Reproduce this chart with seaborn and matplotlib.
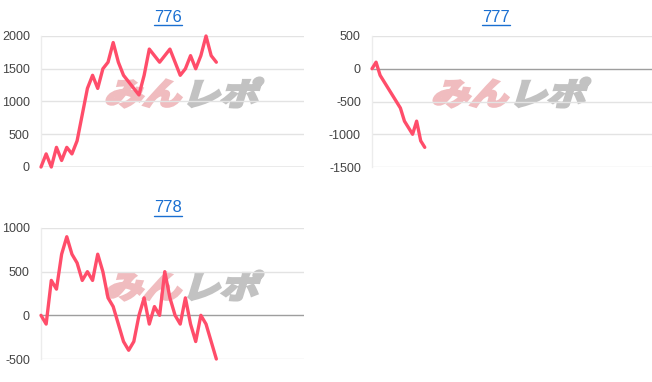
import matplotlib
matplotlib.use("Agg")
import matplotlib.pyplot as plt
from matplotlib.lines import Line2D
from matplotlib.textpath import TextPath
from matplotlib.patches import PathPatch
from matplotlib.font_manager import FontProperties
from matplotlib.transforms import Affine2D, IdentityTransform
import seaborn as sns
import pandas as pd

# ---- data ----
titles = ["776", "777", "778"]
v776 = [0, 200, 0, 300, 100, 300, 200, 400, 800, 1200, 1400, 1200, 1500, 1600,
        1900, 1600, 1400, 1300, 1200, 1100, 1400, 1800, 1700, 1600, 1700, 1800,
        1600, 1400, 1500, 1700, 1500, 1700, 2000, 1700, 1600]
v777 = [0, 100, -100, -200, -300, -400, -500, -600, -800, -900, -1000, -800,
        -1100, -1200]
v778 = [0, -100, 400, 300, 700, 900, 700, 600, 400, 500, 400, 700, 500, 200,
        100, -100, -300, -400, -300, 0, 200, -100, 100, 0, 500, 200, 0, -100,
        200, -100, -300, 0, -100, -300, -500]
yticks_776 = [0, 500, 1000, 1500, 2000]
yticks_777 = [-1500, -1000, -500, 0, 500]
yticks_778 = [-500, 0, 500, 1000]
slots_776 = 52
slots_777 = 70
slots_778 = 52

LINE = "#ff4d6a"
W, H = 652, 382

sns.set_theme(style="white")
plt.rcParams['font.family'] = ['Liberation Sans', 'DejaVu Sans']

fig = plt.figure(figsize=(W / 100, H / 100), dpi=100)
fp = FontProperties(family="Noto Sans CJK JP", weight="bold")


def add_ax(x0, x1, ytop, ybot):
    return fig.add_axes([x0 / W, 1 - ybot / H, (x1 - x0) / W, (ybot - ytop) / H])


def logo_part(txt, x0, x1, ytop, ybot, color):
    p = TextPath((0, 0), txt, size=40, prop=fp)
    p2 = Affine2D().skew_deg(14, 0).transform_path(p)
    e = p2.get_extents()
    sx = (x1 - x0) / e.width
    sy = (ybot - ytop) / e.height
    tr = Affine2D().translate(-e.x0, -e.y0).scale(sx, sy).translate(x0, H - ybot)
    p3 = tr.transform_path(p2)
    fig.add_artist(PathPatch(p3, transform=IdentityTransform(), fc=color,
                             ec=color, lw=2.2, joinstyle="miter", zorder=-1))


def watermark(x0, ytop):
    logo_part("みん", x0 + 2, x0 + 76, ytop + 1, ytop + 28, "#f0bcbf")
    logo_part("レポ", x0 + 84, x0 + 158, ytop - 1, ytop + 28, "#c2c2c2")


def title(cx, cy, txt):
    fig.text(cx / W, 1 - cy / H, txt, ha="center", va="center",
             fontsize=12, color="#1a6fd1")
    fig.add_artist(Line2D([(cx - 14) / W, (cx + 14) / W],
                          [1 - (cy + 7.5) / H, 1 - (cy + 7.5) / H],
                          color="#1a6fd1", lw=1))


def panel(ax, vals, ylim, yticks, slots):
    ax.set_facecolor("none")
    df = pd.DataFrame({"x": range(len(vals)), "y": vals})
    sns.lineplot(data=df, x="x", y="y", ax=ax, color=LINE, lw=2.4,
                 clip_on=False, zorder=5)
    ax.set_xlim(0, slots - 1)
    ax.set_ylim(*ylim)
    ax.set_yticks(yticks)
    ax.set_yticklabels([str(t) for t in yticks])
    ax.set_xticks([])
    ax.set_xlabel("")
    ax.set_ylabel("")
    for t in yticks:
        if t == 0:
            ax.axhline(t, color="#9e9e9e", lw=1, zorder=2)
        else:
            ax.axhline(t, color="#e3e3e3", lw=1, zorder=1)
    for s in ["top", "right", "bottom"]:
        ax.spines[s].set_visible(False)
    ax.spines["left"].set_color("#ececec")
    ax.spines["left"].set_linewidth(1)
    ax.tick_params(axis="y", length=0, pad=8, labelsize=9, labelcolor="#444444")


watermark(105, 79)
watermark(432, 79)
watermark(105, 272)

ax1 = add_ax(41, 304, 36, 167)
panel(ax1, v776, (0, 2000), yticks_776, slots_776)
ax2 = add_ax(372, 652, 36, 167)
panel(ax2, v777, (-1500, 500), yticks_777, slots_777)
ax3 = add_ax(41, 304, 228, 359)
panel(ax3, v778, (-500, 1000), yticks_778, slots_778)

title(168, 17, titles[0])
title(496, 17, titles[1])
title(168, 208, titles[2])

fig.savefig("out.png", dpi=100, facecolor="white")
